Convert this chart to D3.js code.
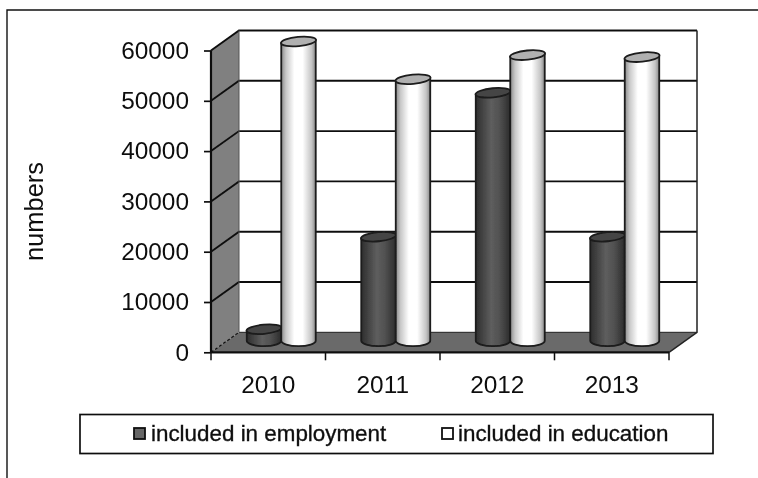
<!DOCTYPE html>
<html><head><meta charset="utf-8">
<script src="https://cdn.jsdelivr.net/npm/d3@7"></script>
<style>html,body{margin:0;background:#fff}svg{display:block}text{font-family:"Liberation Sans",Arial,sans-serif;fill:#111}</style>
</head><body><svg id="c" width="758" height="478"></svg>
<script>
const categories=["2010","2011","2012","2013"];
const employment=[2300,20700,49300,20700];
const education=[59500,52000,56800,56400];
const seriesNames=["included in employment","included in education"];
const yTicks=[0,10000,20000,30000,40000,50000,60000];
const axisTitle="numbers";

const svg=d3.select("#c");
const defs=svg.append("defs");
function grad(id,stops){const g=defs.append("linearGradient").attr("id",id);
  stops.forEach(([o,c])=>g.append("stop").attr("offset",o).attr("stop-color",c));}
grad("gw",[[0,"#8a8a8a"],[.14,"#c8c8c8"],[.38,"#ffffff"],[.62,"#ffffff"],[.88,"#c4c4c4"],[1,"#888"]]);
grad("gd",[[0,"#2e2e2e"],[.45,"#5e5e5e"],[.7,"#505050"],[1,"#2c2c2c"]]);
defs.append("filter").attr("id","soft").append("feGaussianBlur").attr("stdDeviation",.45);

const root=svg.append("g").attr("filter","url(#soft)");
root.append("path").attr("d","M7,478V10H758").attr("fill","none").attr("stroke","#111").attr("stroke-width",1.4);

const x=d3.scaleBand().domain(categories).range([211,669]);
const y=d3.scaleLinear().domain([0,60000]).range([352.3,50.5]);
const dx=28,dy=-20;
const x0=211,x1=669;
const ln="#111";

root.append("rect").attr("x",x0+dx).attr("y",y(60000)+dy).attr("width",x1-x0).attr("height",y(0)-y(60000)).attr("fill","#fff");
root.append("path").attr("d",`M${x0},${y(0)}L${x0},${y(60000)}L${x0+dx},${y(60000)+dy}L${x0+dx},${y(0)+dy}Z`).attr("fill","#808080");
root.append("path").attr("d",`M${x0},${y(0)}L${x1},${y(0)}L${x1+dx},${y(0)+dy}L${x0+dx},${y(0)+dy}Z`).attr("fill","#6a6a6a");

yTicks.forEach(t=>{
  const Y=y(t);
  if(t>0){
    root.append("path").attr("d",`M${x0},${Y}L${x0+dx},${Y+dy}L${x1+dx},${Y+dy}`).attr("fill","none").attr("stroke",ln).attr("stroke-width",1.9);
  } else {
    root.append("path").attr("d",`M${x0},${Y}L${x0+dx},${Y+dy}`).attr("fill","none").attr("stroke",ln).attr("stroke-width",1.2).attr("stroke-dasharray","3,2");
    root.append("path").attr("d",`M${x0+dx},${Y+dy}L${x1+dx},${Y+dy}`).attr("fill","none").attr("stroke","#222").attr("stroke-width",1);
  }
});
root.append("path").attr("d",`M${x1+dx},${y(60000)+dy}V${y(0)+dy}L${x1},${y(0)}`).attr("fill","none").attr("stroke","#222").attr("stroke-width",1.5);
root.append("line").attr("x1",x0+dx).attr("x2",x0+dx).attr("y1",y(60000)+dy).attr("y2",y(0)+dy).attr("stroke","#555").attr("stroke-width",1);

const inner=d3.scaleBand().domain([0,1]).range([0,x.bandwidth()]).paddingOuter(.66).paddingInner(0);
const ry=4.6, tilt=1.6;
const shift=13, lift=-11.5;
function cyl(val,cat,s){
  const w=inner.bandwidth();
  const cx=x(cat)+inner(s)+w/2+shift;
  const L=cx-w/2,R=cx+w/2;
  const base=y(0)+lift, top=y(val)+lift;
  const g=root.append("g").attr("stroke","#1a1a1a").attr("stroke-width",1.8);
  g.append("path").attr("d",`M${L},${top+tilt}V${base}A${w/2},5.4 0 0 0 ${R},${base}V${top-tilt}Z`).attr("fill",`url(#g${s===0?"d":"w"})`);
  g.append("ellipse").attr("cx",cx).attr("cy",top).attr("rx",w/2+.3).attr("ry",ry)
    .attr("transform",`rotate(-5.5 ${cx} ${top})`).attr("fill",s===0?"#444":"#b0b0b0");
}
categories.forEach((c,i)=>{cyl(employment[i],c,0);cyl(education[i],c,1);});

const yAxis=d3.axisLeft(y).tickValues(yTicks).tickFormat(d3.format("d")).tickSize(7).tickPadding(15);
const ya=root.append("g").attr("transform",`translate(${x0},0)`).call(yAxis);
const xAxis=d3.axisBottom(x).tickSize(0).tickPadding(23);
const xa=root.append("g").attr("transform",`translate(0,${y(0)})`).call(xAxis);
[ya,xa].forEach(a=>{a.selectAll("text").style("font-size","24.4px").style("font-family",'"Liberation Sans"').attr("fill","#111");
  a.selectAll("line").attr("stroke",ln).attr("stroke-width",1.7);
  a.select(".domain").attr("stroke",ln).attr("stroke-width",2.2);});
ya.select(".domain").attr("d",`M0,${y(60000)}V${y(0)}`);
xa.select(".domain").attr("d",`M${x0},0H${x1}`);
root.selectAll(".bt").data(categories.concat(["end"])).join("line")
  .attr("x1",(d,i)=>i<4?x(d):x1).attr("x2",(d,i)=>i<4?x(d):x1)
  .attr("y1",y(0)).attr("y2",y(0)+8).attr("stroke",ln).attr("stroke-width",1.5);

root.append("text").text(axisTitle).attr("transform","translate(43,211.5) rotate(-90)").attr("text-anchor","middle").style("font-size","25.5px");

root.append("rect").attr("x",80).attr("y",414.5).attr("width",633).attr("height",39).attr("fill","#fff").attr("stroke","#111").attr("stroke-width",1.7);
const lx=[134,442],lt=[151,458];
seriesNames.forEach((n,i)=>{
  root.append("rect").attr("x",lx[i]).attr("y",428).attr("width",11).attr("height",11).attr("fill",i?"#fff":"#666").attr("stroke","#111").attr("stroke-width",1.8);
  root.append("text").text(n).attr("x",lt[i]).attr("y",441).style("font-size","22.4px").style("stroke","#111").style("stroke-width",.35);
});
</script></body></html>
